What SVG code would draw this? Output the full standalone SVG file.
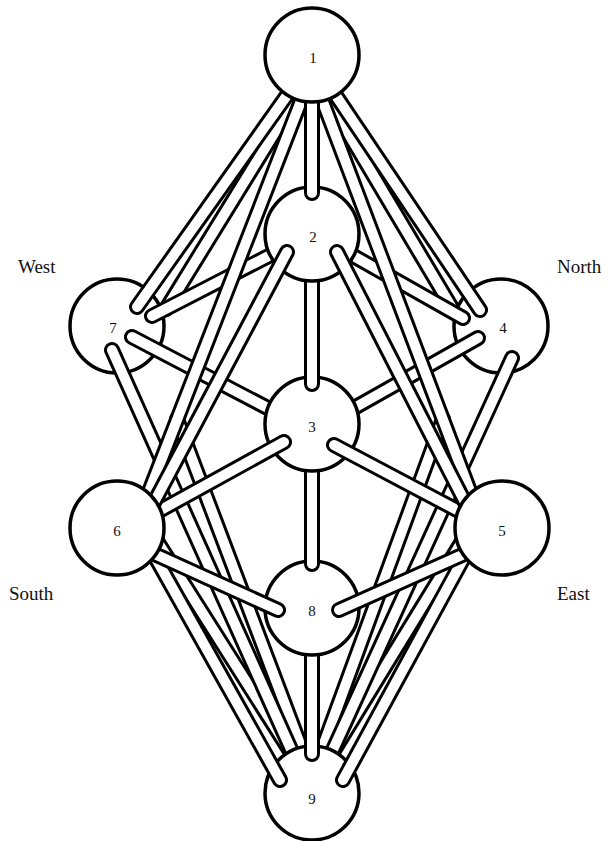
<svg xmlns="http://www.w3.org/2000/svg" width="611" height="841" viewBox="0 0 611 841">
<style>
.o{stroke:#000;stroke-width:16;stroke-linecap:round;fill:none}
.i{stroke:#fff;stroke-width:10;stroke-linecap:round;fill:none}
.n{fill:#fff;stroke:#000;stroke-width:3.5}
.l{font-family:"Liberation Serif","DejaVu Serif",serif;font-size:15px;text-anchor:middle;fill:#111}
.d{font-family:"Liberation Serif","DejaVu Serif",serif;font-size:19px;fill:#111}
</style>
<rect width="611" height="841" fill="#fff"/>
<g id="connectors">
<g><line class="o" x1="150" y1="530" x2="302" y2="770"/><line class="i" x1="150" y1="530" x2="302" y2="770"/></g>
<g><line class="o" x1="469" y1="530" x2="322" y2="770"/><line class="i" x1="469" y1="530" x2="322" y2="770"/></g>
<g><line class="o" x1="177" y1="419" x2="306" y2="760"/><line class="i" x1="177" y1="419" x2="306" y2="760"/></g>
<g><line class="o" x1="443" y1="419" x2="318" y2="760"/><line class="i" x1="443" y1="419" x2="318" y2="760"/></g>
<g><line class="o" x1="318" y1="62" x2="166" y2="309"/><line class="i" x1="318" y1="62" x2="166" y2="309"/></g>
<g><line class="o" x1="306" y1="62" x2="455" y2="313"/><line class="i" x1="306" y1="62" x2="455" y2="313"/></g>
</g>
<g id="n7"><circle class="n" cx="117" cy="326" r="47"/><text class="l" x="113" y="333">7</text></g>
<g id="n4"><circle class="n" cx="501" cy="326" r="47"/><text class="l" x="503" y="333">4</text></g>
<g id="connectors2">
<g><line class="o" x1="112" y1="350" x2="298" y2="765"/><line class="i" x1="112" y1="350" x2="298" y2="765"/></g>
<g><line class="o" x1="512" y1="358" x2="326" y2="765"/><line class="i" x1="512" y1="358" x2="326" y2="765"/></g>
<g><line class="o" x1="132" y1="337" x2="300" y2="425"/><line class="i" x1="132" y1="337" x2="300" y2="425"/></g>
<g><line class="o" x1="478" y1="338" x2="324" y2="425"/><line class="i" x1="478" y1="338" x2="324" y2="425"/></g>
<g><line class="o" x1="290" y1="245" x2="152" y2="316"/><line class="i" x1="290" y1="245" x2="152" y2="316"/></g>
<g><line class="o" x1="334" y1="245" x2="463" y2="318"/><line class="i" x1="334" y1="245" x2="463" y2="318"/></g>
<g><line class="o" x1="312" y1="60" x2="137" y2="307"/><line class="i" x1="312" y1="60" x2="137" y2="307"/></g>
<g><line class="o" x1="312" y1="60" x2="480" y2="310"/><line class="i" x1="312" y1="60" x2="480" y2="310"/></g>
<g><line class="o" x1="315" y1="65" x2="140" y2="515"/><line class="i" x1="315" y1="65" x2="140" y2="515"/></g>
<g><line class="o" x1="309" y1="65" x2="479" y2="515"/><line class="i" x1="309" y1="65" x2="479" y2="515"/></g>
</g>
<g id="n9"><circle class="n" cx="312" cy="793" r="47"/><text class="l" x="312" y="804">9</text></g>
<g id="connectors3">
<g><line class="o" x1="140" y1="530" x2="280" y2="780"/><line class="i" x1="140" y1="530" x2="280" y2="780"/></g>
<g><line class="o" x1="479" y1="530" x2="343" y2="780"/><line class="i" x1="479" y1="530" x2="343" y2="780"/></g>
<g><line class="o" x1="312" y1="608" x2="312" y2="754"/><line class="i" x1="312" y1="608" x2="312" y2="754"/></g>
</g>
<g id="n8"><circle class="n" cx="312" cy="608" r="47"/><text class="l" x="312" y="616">8</text></g>
<g id="connectors4">
<g><line class="o" x1="130" y1="543" x2="278" y2="610"/><line class="i" x1="130" y1="543" x2="278" y2="610"/></g>
<g><line class="o" x1="489" y1="543" x2="339" y2="610"/><line class="i" x1="489" y1="543" x2="339" y2="610"/></g>
<g><line class="o" x1="312" y1="424" x2="312" y2="564"/><line class="i" x1="312" y1="424" x2="312" y2="564"/></g>
</g>
<g id="n3"><circle class="n" cx="312" cy="424" r="47"/><text class="l" x="312" y="432">3</text></g>
<g id="connectors5">
<g><line class="o" x1="284" y1="442" x2="130" y2="527"/><line class="i" x1="284" y1="442" x2="130" y2="527"/></g>
<g><line class="o" x1="334" y1="445" x2="489" y2="527"/><line class="i" x1="334" y1="445" x2="489" y2="527"/></g>
<g><line class="o" x1="312" y1="234" x2="312" y2="384"/><line class="i" x1="312" y1="234" x2="312" y2="384"/></g>
</g>
<g id="n2"><circle class="n" cx="312" cy="234" r="47"/><text class="l" x="313" y="242">2</text></g>
<g id="connectors6">
<g><line class="o" x1="287" y1="252" x2="150" y2="510"/><line class="i" x1="287" y1="252" x2="150" y2="510"/></g>
<g><line class="o" x1="337" y1="252" x2="469" y2="510"/><line class="i" x1="337" y1="252" x2="469" y2="510"/></g>
<g><line class="o" x1="312" y1="55" x2="312" y2="193"/><line class="i" x1="312" y1="55" x2="312" y2="193"/></g>
</g>
<g id="n1"><circle class="n" cx="312" cy="55" r="47"/><text class="l" x="313" y="63">1</text></g>
<g id="n6"><circle class="n" cx="117" cy="528" r="47"/><text class="l" x="117" y="536">6</text></g>
<g id="n5"><circle class="n" cx="502" cy="528" r="47"/><text class="l" x="502" y="536">5</text></g>
<g id="labels">
<text class="d" x="18" y="273">West</text>
<text class="d" x="557" y="273">North</text>
<text class="d" x="9" y="600">South</text>
<text class="d" x="557" y="600">East</text>
</g>
</svg>
